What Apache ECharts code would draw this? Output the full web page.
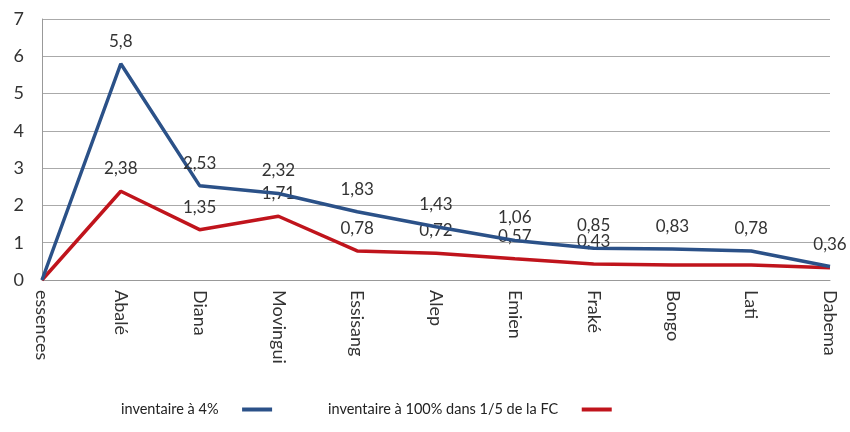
<!DOCTYPE html>
<html><head><meta charset="utf-8">
<script src="https://cdn.jsdelivr.net/npm/echarts@6/dist/echarts.min.js"></script>
<style>html,body{margin:0;padding:0;background:#fff}#c{width:850px;height:432px}</style>
</head><body><div id="c"></div>
<script>
const categories = ['essences','Abalé','Diana','Movingui','Essisang','Alep','Emien','Fraké','Bongo','Lati','Dabema'];
const seriesNames = ['inventaire à 4%','inventaire à 100% dans 1/5 de la FC'];
const blueValues = [0,5.8,2.53,2.32,1.83,1.43,1.06,0.85,0.83,0.78,0.36];
const redValues = [0,2.38,1.35,1.71,0.78,0.72,0.57,0.43,0.4,0.4,0.33];
const blueLabelShown = [false,true,true,true,true,true,true,true,true,true,true];
const redLabelShown = [false,true,true,true,true,true,true,true,false,false,false];
const yTicks = [0,1,2,3,4,5,6,7];

const fmt = v => String(v).replace('.', ',');
function build(vals, shown){
  return vals.map((v,i)=>({value:v, label:{show:shown[i]}}));
}
const FONT = 'Lato';
const chart = echarts.init(document.getElementById('c'));
const lblStyle = {show:true, position:'top', distance:14, fontSize:17, color:'#333', fontFamily:FONT,
  formatter: p => fmt(p.value)};
chart.setOption({
  animation:false,
  grid:{left:42, right:20, top:19, bottom:152, containLabel:false},
  legend:[
    {data:[seriesNames[0]], left:116, bottom:10, align:'right', icon:'rect', itemWidth:30, itemHeight:4,
     formatter: n => n + '     ', textStyle:{fontSize:14.5, color:'#222', fontFamily:FONT}},
    {data:[seriesNames[1]], left:323, bottom:10, align:'right', icon:'rect', itemWidth:30, itemHeight:4,
     formatter: n => n + '     ', textStyle:{fontSize:14.5, color:'#222', fontFamily:FONT}}
  ],
  xAxis:{type:'category', data:categories, boundaryGap:false,
    axisLine:{lineStyle:{color:'#999'}}, axisTick:{show:false},
    axisLabel:{rotate:-90, fontSize:18, color:'#333', fontFamily:FONT, margin:10, interval:0}},
  yAxis:{type:'value', min:yTicks[0], max:yTicks[yTicks.length-1], interval:1,
    axisLine:{show:true, lineStyle:{color:'#999'}}, axisTick:{show:false},
    splitLine:{lineStyle:{color:'#aaa'}},
    axisLabel:{fontSize:18, color:'#333', fontFamily:FONT, margin:18}},
  series:[
    {name:seriesNames[0], type:'line', data:build(blueValues, blueLabelShown), symbol:'circle', symbolSize:0, showSymbol:true,
     lineStyle:{color:'#2b5188', width:3.5}, itemStyle:{color:'#2b5188'}, label:lblStyle, z:3},
    {name:seriesNames[1], type:'line', data:build(redValues, redLabelShown), symbol:'circle', symbolSize:0, showSymbol:true,
     lineStyle:{color:'#c0141c', width:3.5}, itemStyle:{color:'#c0141c'}, label:lblStyle, z:2}
  ]
});
</script></body></html>
